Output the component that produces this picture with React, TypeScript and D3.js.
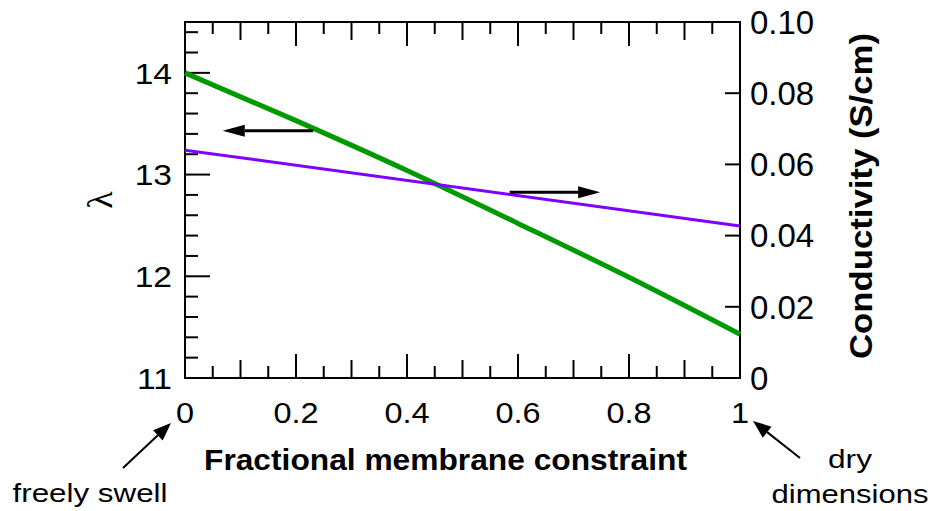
import React, { useEffect, useRef } from "react";
import * as d3 from "d3";

// data
const constraintPts = [0, 0.2, 0.4, 0.6, 0.8, 1];
const lambdaVals = [14.0, 13.53, 13.04, 12.52, 11.99, 11.43];
const condPts = [0, 1];
const conductivity = [0.064, 0.0427];

const xTicks = [0, 0.2, 0.4, 0.6, 0.8, 1];
const xTickLabels = ["0", "0.2", "0.4", "0.6", "0.8", "1"];
const lambdaTicks = [11, 12, 13, 14];
const condTicks = [0, 0.02, 0.04, 0.06, 0.08, 0.1];
const condTickLabels = ["0", "0.02", "0.04", "0.06", "0.08", "0.10"];

const FONT = "'Liberation Sans', Arial, Helvetica, sans-serif";

export default function App() {
	const ref = useRef<SVGSVGElement>(null);

	useEffect(() => {
		const svg = d3.select(ref.current);
		svg.selectAll("*").remove();

		const left = 185, right = 740, top = 22, bottom = 378;

		const x = d3.scaleLinear().domain([0, 1]).range([left, right]);
		const yL = d3.scaleLinear().domain([11, 14.5]).range([bottom, top]);
		const yR = d3.scaleLinear().domain([0, 0.1]).range([bottom, top]);

		const g = svg.append("g");

		// ticks on top and bottom, every 0.05 (three lengths)
		const xMinor = d3.range(1, 20).map((i) => i * 0.05);
		xMinor.forEach((v, i) => {
			const n = i + 1;
			const len = n % 4 === 0 ? 24 : n % 2 === 0 ? 18 : 12;
			g.append("line")
				.attr("x1", x(v)).attr("x2", x(v))
				.attr("y1", bottom).attr("y2", bottom - len)
				.attr("stroke", "#000").attr("stroke-width", 2);
			g.append("line")
				.attr("x1", x(v)).attr("x2", x(v))
				.attr("y1", top).attr("y2", top + len)
				.attr("stroke", "#000").attr("stroke-width", 2);
		});

		// left axis ticks: major 1, minor 0.2
		d3.range(0, 18).map((i) => 11 + i * 0.2).forEach((v, i) => {
			if (i === 0) return;
			const len = i % 5 === 0 ? 25 : 13;
			g.append("line")
				.attr("x1", left).attr("x2", left + len)
				.attr("y1", yL(v)).attr("y2", yL(v))
				.attr("stroke", "#000").attr("stroke-width", 2);
		});

		// right axis ticks
		condTicks.slice(1, -1).forEach((v) => {
			g.append("line")
				.attr("x1", right).attr("x2", right - 15)
				.attr("y1", yR(v)).attr("y2", yR(v))
				.attr("stroke", "#000").attr("stroke-width", 2);
		});

		// frame
		g.append("rect")
			.attr("x", left).attr("y", top)
			.attr("width", right - left).attr("height", bottom - top)
			.attr("fill", "none").attr("stroke", "#000").attr("stroke-width", 2);

		// lines
		const lamLine = d3.line<number>()
			.x((d, i) => x(constraintPts[i]))
			.y((d) => yL(d))
			.curve(d3.curveMonotoneX);
		g.append("path")
			.attr("d", lamLine(lambdaVals))
			.attr("fill", "none").attr("stroke", "#009a00").attr("stroke-width", 5);

		const condLine = d3.line<number>()
			.x((d, i) => x(condPts[i]))
			.y((d) => yR(d));
		g.append("path")
			.attr("d", condLine(conductivity))
			.attr("fill", "none").attr("stroke", "#7f00ff").attr("stroke-width", 3);

		// arrow helper
		const arrow = (x1: number, y1: number, x2: number, y2: number, w: number, hl: number, hw: number) => {
			const ang = Math.atan2(y2 - y1, x2 - x1);
			const bx = x2 - hl * Math.cos(ang), by = y2 - hl * Math.sin(ang);
			g.append("line")
				.attr("x1", x1).attr("y1", y1).attr("x2", bx).attr("y2", by)
				.attr("stroke", "#000").attr("stroke-width", w);
			const px = -Math.sin(ang) * hw, py = Math.cos(ang) * hw;
			g.append("path")
				.attr("d", `M${x2},${y2}L${bx + px},${by + py}L${bx - px},${by - py}Z`)
				.attr("fill", "#000");
		};

		// series pointers
		arrow(x(0.231), yL(13.43), x(0.068), yL(13.43), 3, 22, 6);
		arrow(x(0.585), yR(0.0522), x(0.748), yR(0.0522), 3, 22, 6);

		// tick labels (slightly wide face like the original)
		lambdaTicks.forEach((v) => {
			g.append("text")
				.attr("transform", `translate(172,${yL(v)}) scale(1.12,1)`)
				.attr("dy", "0.36em")
				.attr("text-anchor", "end")
				.style("font-family", FONT).style("font-size", "30px")
				.text(v);
		});
		xTicks.forEach((v, i) => {
			g.append("text")
				.attr("transform", `translate(${x(v)},423) scale(1.12,1)`)
				.attr("text-anchor", "middle")
				.style("font-family", FONT).style("font-size", "29px")
				.text(xTickLabels[i]);
		});
		condTicks.forEach((v, i) => {
			g.append("text")
				.attr("x", 750).attr("y", yR(v)).attr("dy", "0.36em")
				.style("font-family", FONT).style("font-size", "33px")
				.text(condTickLabels[i]);
		});

		// axis titles
		g.append("text")
			.attr("x", 204).attr("y", 470)
			.attr("textLength", 483).attr("lengthAdjust", "spacingAndGlyphs")
			.style("font-family", FONT).style("font-size", "29px").style("font-weight", "bold")
			.text("Fractional membrane constraint");

		g.append("text")
			.attr("transform", "translate(872,196) rotate(-90)")
			.attr("text-anchor", "middle")
			.attr("textLength", 326).attr("lengthAdjust", "spacingAndGlyphs")
			.style("font-family", FONT).style("font-size", "31px").style("font-weight", "bold")
			.text("Conductivity (S/cm)");

		g.append("text")
			.attr("transform", "translate(100,200) rotate(-90)")
			.attr("text-anchor", "middle").attr("dominant-baseline", "central")
			.style("font-family", "'Liberation Serif', 'Times New Roman', serif").style("font-size", "36px")
			.text("λ");

		// end annotations
		arrow(x(0) - 62, 468, x(0) - 14, 423, 2, 18, 7);
		arrow(x(1) + 60, 458, x(1) + 13, 421, 2, 18, 7);

		g.append("text")
			.attr("x", 90).attr("y", 502)
			.attr("text-anchor", "middle")
			.attr("textLength", 155).attr("lengthAdjust", "spacingAndGlyphs")
			.style("font-family", FONT).style("font-size", "26px")
			.text("freely swell");
		g.append("text")
			.attr("x", 850).attr("y", 468)
			.attr("text-anchor", "middle")
			.attr("textLength", 44).attr("lengthAdjust", "spacingAndGlyphs")
			.style("font-family", FONT).style("font-size", "26px")
			.text("dry");
		g.append("text")
			.attr("x", 850).attr("y", 503)
			.attr("text-anchor", "middle")
			.attr("textLength", 157).attr("lengthAdjust", "spacingAndGlyphs")
			.style("font-family", FONT).style("font-size", "26px")
			.text("dimensions");
	}, []);

	return (
		<svg
			ref={ref}
			width={932}
			height={511}
			style={{ position: "absolute", left: 0, top: 0, background: "#fff" }}
		/>
	);
}
